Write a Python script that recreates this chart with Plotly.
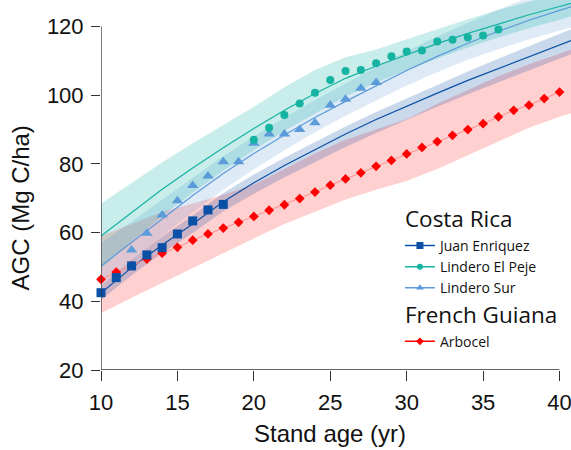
import plotly.graph_objects as go

# ---------------- data ----------------
AGE_FIT = [10, 12, 14, 16, 18, 20, 22, 24, 26, 28, 30, 32, 34, 36, 38, 40, 40.75]

JE_FIT = [42.4, 49.8, 56.4, 62.5, 69.0, 74.5, 79.5, 84.2, 88.7, 92.9, 96.8, 100.6, 104.3, 107.8, 111.2, 114.6, 115.9]
JE_LO = [40.4, 47.6, 54.0, 59.9, 66.2, 71.3, 76.1, 80.6, 84.9, 89.0, 92.9, 96.6, 100.3, 103.8, 107.2, 110.6, 111.9]
JE_HI = [44.4, 52.0, 58.8, 65.0, 71.5, 76.9, 81.8, 86.4, 90.9, 95.1, 99.1, 103.0, 106.9, 110.6, 114.3, 117.9, 119.2]

EP_FIT = [59.0, 65.9, 72.6, 78.8, 84.7, 90.3, 95.6, 100.5, 104.9, 108.5, 111.8, 115.0, 118.0, 120.8, 123.4, 125.8, 126.7]
EP_LO = [49.5, 57.4, 64.8, 71.6, 78.0, 84.0, 89.6, 94.7, 99.6, 103.7, 107.3, 110.7, 113.9, 116.8, 119.5, 122.0, 122.9]
EP_HI = [68.5, 74.4, 80.4, 86.0, 91.4, 96.6, 102.3, 107.3, 111.0, 113.3, 116.3, 119.3, 122.1, 124.8, 127.3, 129.6, 130.5]

LS_FIT = [50.3, 57.2, 64.1, 70.8, 77.2, 83.0, 88.4, 93.5, 98.2, 102.8, 107.2, 111.3, 115.1, 118.6, 121.8, 124.7, 125.7]
LS_LO = [44.3, 51.7, 59.0, 65.9, 72.5, 78.4, 84.0, 89.2, 94.0, 98.5, 102.8, 106.7, 110.3, 113.4, 116.2, 118.8, 119.6]
LS_HI = [56.8, 63.2, 69.7, 76.1, 82.3, 88.0, 93.4, 98.5, 103.4, 108.2, 112.8, 117.1, 121.1, 124.9, 128.4, 131.6, 132.7]

AR_LO = [36.5, 41.0, 45.3, 49.8, 54.0, 58.3, 62.5, 66.0, 69.6, 72.5, 75.0, 78.5, 82.3, 86.5, 90.5, 93.7, 94.7]
AR_HI = [59.0, 62.5, 66.0, 68.5, 71.0, 74.0, 78.5, 83.0, 87.0, 90.0, 93.0, 97.5, 101.5, 105.5, 109.0, 112.0, 113.2]

JE_AGE = [10, 11, 12, 13, 14, 15, 16, 17, 18]
JE_AGC = [42.5, 46.9, 50.3, 53.5, 55.6, 59.6, 63.4, 66.6, 68.2]

EP_AGE = list(range(20, 37))
EP_AGC = [87.0, 90.5, 94.2, 97.6, 100.7, 104.4, 107.0, 107.3, 109.3, 111.3, 112.7,
          113.0, 115.6, 116.1, 116.8, 117.4, 119.1]

LS_AGE = list(range(12, 29))
LS_AGC = [54.9, 59.8, 65.1, 69.3, 73.7, 76.5, 80.6, 80.6, 86.0, 88.7, 88.7, 90.0,
          92.0, 97.1, 98.8, 102.0, 103.7]

AR_AGE = list(range(10, 41))
AR_AGC = [46.4, 48.5, 50.4, 52.3, 54.0, 55.7, 57.8, 59.6, 61.3, 63.0, 64.7, 66.5,
          68.1, 69.9, 71.8, 73.8, 75.6, 77.4, 79.3, 81.0, 82.9, 84.8, 86.5, 88.3,
          90.0, 91.7, 93.7, 95.6, 97.1, 99.0, 100.9]

X_TICKS = [10, 15, 20, 25, 30, 35, 40]
Y_TICKS = [20, 40, 60, 80, 100, 120]
X_RANGE = [10, 40.75]
Y_RANGE = [20, 127.7]

# ---------------- styles ----------------
C_JE = "#0a50a6"
C_EP = "#14b3a2"
C_LS = "#5b9bd9"
C_AR = "#ff0000"
C_AR_LINE = "#ff8c8c"
F_JE = "rgba(13,78,166,0.22)"
F_EP = "rgba(23,179,163,0.23)"
F_LS = "rgba(91,155,216,0.20)"
F_AR = "rgba(255,40,40,0.22)"

fig = go.Figure()


def band(lo, hi, color):
    fig.add_trace(go.Scatter(
        x=AGE_FIT + AGE_FIT[::-1], y=hi + lo[::-1], fill="toself",
        fillcolor=color, line=dict(width=0), mode="lines",
        showlegend=False, hoverinfo="skip"))


band(AR_LO, AR_HI, F_AR)
band(JE_LO, JE_HI, F_JE)
band(LS_LO, LS_HI, F_LS)
band(EP_LO, EP_HI, F_EP)

for fit, col in [(JE_FIT, C_JE), (LS_FIT, C_LS), (EP_FIT, C_EP)]:
    fig.add_trace(go.Scatter(x=AGE_FIT, y=fit, mode="lines",
                             line=dict(color=col, width=1.2), showlegend=False))

fig.add_trace(go.Scatter(x=AR_AGE, y=AR_AGC, mode="lines+markers",
                         line=dict(color=C_AR_LINE, width=1),
                         marker=dict(symbol="diamond", size=7.5, color=C_AR),
                         cliponaxis=False, showlegend=False))
fig.add_trace(go.Scatter(x=LS_AGE, y=LS_AGC, mode="markers",
                         marker=dict(symbol="triangle-up", size=10, color=C_LS),
                         cliponaxis=False, showlegend=False))
fig.add_trace(go.Scatter(x=EP_AGE, y=EP_AGC, mode="markers",
                         marker=dict(symbol="circle", size=8, color=C_EP),
                         cliponaxis=False, showlegend=False))
fig.add_trace(go.Scatter(x=JE_AGE, y=JE_AGC, mode="markers",
                         marker=dict(symbol="square", size=9, color=C_JE),
                         cliponaxis=False, showlegend=False))

# legend entries
LEG_FONT = "Open Sans"
legend_items = [
    ("Juan Enriquez", C_JE, "square", 7, "cr", "Costa Rica"),
    ("Lindero El Peje", C_EP, "circle", 6, "cr", "Costa Rica"),
    ("Lindero Sur", C_LS, "triangle-up", 7, "cr", "Costa Rica"),
    ("Arbocel", C_AR, "diamond", 6, "fg", "French Guiana"),
]
for name, col, sym, sz, grp, gtitle in legend_items:
    fig.add_trace(go.Scatter(
        x=[None], y=[None], mode="lines+markers", name=name,
        line=dict(color=col, width=1.5), marker=dict(symbol=sym, size=sz, color=col),
        legendgroup=grp,
        legendgrouptitle=dict(text=gtitle, font=dict(size=22.5, family=LEG_FONT,
                                                     color="#111", weight="normal"))))

axis_color = "#333333"
fig.add_shape(type="line", xref="x", yref="y", x0=X_TICKS[0], x1=X_TICKS[0],
              y0=Y_TICKS[0], y1=Y_TICKS[-1], line=dict(color=axis_color, width=1.3))
fig.add_shape(type="line", xref="x", yref="y", x0=X_TICKS[0], x1=X_TICKS[-1],
              y0=Y_TICKS[0], y1=Y_TICKS[0], line=dict(color=axis_color, width=1.3))

tick_font = dict(family="Liberation Sans, Arial", size=22, color="#111")
fig.update_xaxes(range=X_RANGE, tickvals=X_TICKS, ticks="outside", ticklen=10,
                 tickwidth=1.3, tickcolor=axis_color, showgrid=False, zeroline=False,
                 showline=False, tickfont=tick_font, ticklabeloverflow="allow",
                 ticklabelstandoff=3)
fig.update_yaxes(range=Y_RANGE, tickvals=Y_TICKS, ticks="outside", ticklen=9,
                 tickwidth=1.3, tickcolor=axis_color, showgrid=False, zeroline=False,
                 showline=False, tickfont=tick_font, ticklabelstandoff=3)

title_font = dict(family="Liberation Sans, Arial", size=24, color="#111")
fig.add_annotation(text="Stand age (yr)", x=25, xref="x", y=0, yref="paper",
                   yanchor="top", yshift=-48, showarrow=False, font=title_font)
fig.add_annotation(text="AGC (Mg C/ha)", x=0, xref="paper", y=67, yref="y",
                   xanchor="center", xshift=-80, textangle=-90, showarrow=False,
                   font=title_font)

fig.update_layout(
    width=571, height=450,
    margin=dict(l=101, r=0, t=0, b=80),
    plot_bgcolor="white", paper_bgcolor="white",
    legend=dict(x=0.636, y=0.466, xanchor="left", yanchor="top",
                font=dict(family=LEG_FONT, size=14, color="#111"),
                tracegroupgap=0, bgcolor="rgba(0,0,0,0)", itemwidth=30),
)

fig.write_html("out.html")
